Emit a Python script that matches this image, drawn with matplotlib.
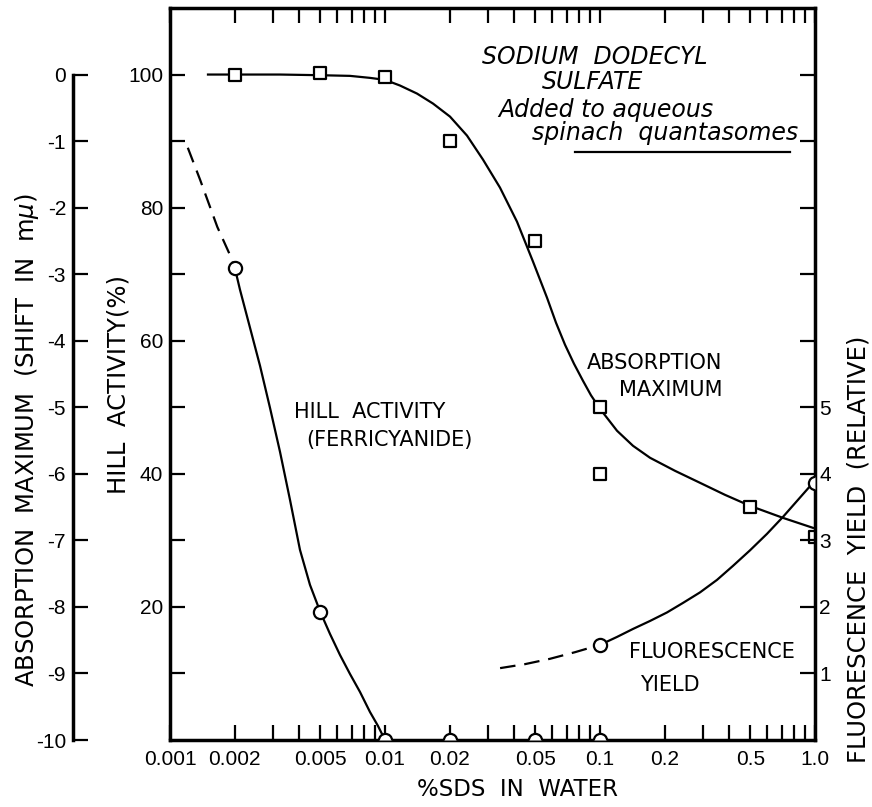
import matplotlib
matplotlib.use("Agg")
import matplotlib.pyplot as plt
from matplotlib.path import Path
from matplotlib.ticker import LogLocator, NullFormatter, FixedLocator

# ---------------- data ----------------
# Absorption maximum shift (m-mu) -- squares
sds_abs = [0.002, 0.005, 0.01, 0.02, 0.05, 0.1, 0.1, 0.5, 1.0]
abs_shift = [0.0, 0.02, -0.03, -1.0, -2.5, -5.0, -6.0, -6.5, -6.95]

# Hill activity (%) -- circles
sds_hill = [0.002, 0.005, 0.01, 0.02, 0.05, 0.1]
hill_activity = [71.0, 19.2, 0.0, 0.0, 0.0, 0.0]

# Fluorescence yield (relative) -- circles
sds_fluor = [0.1, 1.0]
fluor_yield = [1.43, 3.86]

# hand-drawn curves, points
abs_curve_x = [0.001502, 0.002, 0.003248, 0.005, 0.006874, 0.008514, 0.01,
               0.01174, 0.01409, 0.01672, 0.02006, 0.02406, 0.02856, 0.03426,
               0.04111, 0.04881, 0.05669, 0.06242, 0.06874, 0.07569, 0.08334,
               0.0908, 0.1, 0.12, 0.1424, 0.1709, 0.2233, 0.2918, 0.3814,
               0.4984, 0.7098, 0.9788]
abs_curve_y = [0.0, 0.0, 0.0, -0.01, -0.02, -0.05, -0.08,
               -0.165, -0.286, -0.436, -0.632, -0.917, -1.278, -1.699,
               -2.211, -2.812, -3.353, -3.729, -4.06, -4.346, -4.602,
               -4.82, -5.023, -5.353, -5.579, -5.759, -5.955, -6.135, -6.316,
               -6.481, -6.662, -6.812]

hill_dash_x = [0.00121, 0.00138, 0.00166, 0.0019, 0.002]
hill_dash_y = [89.0, 84.2, 77.1, 72.9, 71.0]
hill_curve_x = [0.002, 0.002116, 0.002356, 0.002622, 0.002918, 0.003248,
                0.003615, 0.004023, 0.004478, 0.005, 0.005548, 0.006175,
                0.006874, 0.007651, 0.008514, 0.009278, 0.01]
hill_curve_y = [71.0, 67.67, 61.95, 56.24, 49.92, 43.31, 36.09, 28.57, 23.31,
                19.25, 15.94, 12.78, 9.92, 7.22, 4.21, 2.11, 0.0]

fluor_dash_x = [0.0343, 0.0448, 0.0585, 0.0766, 0.1]
fluor_dash_y = [1.08, 1.14, 1.22, 1.32, 1.43]
fluor_curve_x = [0.1, 0.12, 0.1424, 0.1709, 0.205, 0.2432, 0.2918, 0.3501,
                 0.4155, 0.4984, 0.598, 0.7098, 0.8335, 0.9788]
fluor_curve_y = [1.429, 1.549, 1.669, 1.789, 1.917, 2.06, 2.218, 2.406,
                 2.617, 2.85, 3.098, 3.353, 3.609, 3.865]

# ticks
xtick_vals = [0.001, 0.002, 0.005, 0.01, 0.02, 0.05, 0.1, 0.2, 0.5, 1.0]
xtick_labels = ["0.001", "0.002", "0.005", "0.01", "0.02", "0.05", "0.1",
                "0.2", "0.5", "1.0"]
hill_major = [20, 40, 60, 80, 100]
hill_minor = [10, 30, 50, 70, 90]
abs_ticks = [0, -1, -2, -3, -4, -5, -6, -7, -8, -9, -10]
abs_labels = ["0", "-1", "-2", "-3", "-4", "-5", "-6", "-7", "-8", "-9", "-10"]
fluor_major = [1, 2, 3, 4, 5]
fluor_minor = [6, 7, 8, 9, 10]

# ---------------- figure ----------------
W, H = 872, 807
fig = plt.figure(figsize=(W / 100, H / 100), dpi=100)
fig.patch.set_facecolor("white")
ax = fig.add_axes([170 / W, 1 - 740 / H, 645 / W, 732 / H])
ax_abs = ax.twinx()
ax_fl = ax.twinx()

SPW = 2.5
TL = 11
TW = 1.6
tick_font = dict(family="Liberation Sans", size=15)
lab_font = dict(family="DejaVu Sans", size=17.5)
txt_font = dict(family="DejaVu Sans", size=15)

XMIN, XMAX = 0.001, 1.0
ax.set_xscale("log")
ax.set_xlim(XMIN, XMAX)
ax.set_ylim(0, 110)
ax_abs.set_ylim(-10, 1)
ax_fl.set_ylim(0, 11)

# main axes spines
for s in ["left", "bottom", "top"]:
    ax.spines[s].set_linewidth(SPW)
ax.spines["right"].set_visible(False)

ax.set_xticks(xtick_vals, xtick_labels)
ax.xaxis.set_minor_locator(LogLocator(base=10, subs=range(2, 10)))
ax.xaxis.set_minor_formatter(NullFormatter())
ax.tick_params(axis="x", which="both", direction="in", top=True, bottom=True,
               length=TL, width=TW, pad=7)
for lbl in ax.get_xticklabels():
    lbl.set_fontfamily(tick_font["family"])
    lbl.set_fontsize(tick_font["size"])

ax.set_yticks(hill_major, [str(v) for v in hill_major])
ax.yaxis.set_minor_locator(FixedLocator(hill_minor))
ax.tick_params(axis="y", which="both", direction="in", left=True, right=False,
               labelleft=True, labelright=False, length=TL, width=TW, pad=5)
for lbl in ax.get_yticklabels():
    lbl.set_fontfamily(tick_font["family"])
    lbl.set_fontsize(tick_font["size"])

# absorption axis (detached on left)
for s in ["top", "bottom", "right"]:
    ax_abs.spines[s].set_visible(False)
ax_abs.spines["left"].set_visible(True)
ax_abs.spines["left"].set_position(("axes", (73 - 170) / 645))
ax_abs.spines["left"].set_bounds(-10, 0)
ax_abs.spines["left"].set_linewidth(SPW)
ax_abs.yaxis.set_ticks_position("left")
ax_abs.set_yticks(abs_ticks, abs_labels)
ax_abs.tick_params(axis="y", direction="in", left=True, right=False,
                   labelleft=True, labelright=False, length=TL, width=TW, pad=5)
for lbl in ax_abs.get_yticklabels():
    lbl.set_fontfamily(tick_font["family"])
    lbl.set_fontsize(tick_font["size"])

# fluorescence axis (right)
for s in ["top", "bottom", "left"]:
    ax_fl.spines[s].set_visible(False)
ax_fl.spines["right"].set_linewidth(SPW)
ax_fl.set_yticks(fluor_major, [str(v) for v in fluor_major])
ax_fl.yaxis.set_minor_locator(FixedLocator(fluor_minor))
ax_fl.tick_params(axis="y", which="both", direction="in", right=True, left=False,
                  labelright=True, labelleft=False, length=TL, width=TW, pad=3)
for lbl in ax_fl.get_yticklabels():
    lbl.set_fontfamily(tick_font["family"])
    lbl.set_fontsize(tick_font["size"])

# ---------------- markers cut by the frame ----------------
UPPER_HALF_CIRCLE = Path.arc(0, 180)
LEFT_HALF_CIRCLE = Path.arc(90, 270)
LEFT_HALF_SQUARE = Path([(0, -1), (-1, -1), (-1, 1), (0, 1)])


def draw_points(axis, xs, ys, kind, ybottom):
    """Scatter points; those lying on the frame are drawn as the half that
    stays inside the plot area, like the original drawing."""
    full = "o" if kind == "circle" else "s"
    size = 9.5 ** 2 if kind == "circle" else 9 ** 2
    groups = {}
    for x, y in zip(xs, ys):
        if x >= XMAX:
            mk = LEFT_HALF_CIRCLE if kind == "circle" else LEFT_HALF_SQUARE
        elif y <= ybottom:
            mk = UPPER_HALF_CIRCLE
        else:
            mk = full
        groups.setdefault(id(mk) if not isinstance(mk, str) else mk,
                          (mk, [], []))
        groups_key = id(mk) if not isinstance(mk, str) else mk
        groups[groups_key][1].append(x)
        groups[groups_key][2].append(y)
    for mk, gx, gy in groups.values():
        axis.scatter(gx, gy, marker=mk, s=size, facecolors="white",
                     edgecolors="black", linewidths=1.6, zorder=5)


# ---------------- curves and points ----------------
LW = 1.6
DASH = (7, 4)
ax_abs.plot(abs_curve_x, abs_curve_y, color="black", lw=LW)
draw_points(ax_abs, sds_abs, abs_shift, "square", -10)

ax.plot(hill_dash_x, hill_dash_y, color="black", lw=LW, dashes=DASH)
ax.plot(hill_curve_x, hill_curve_y, color="black", lw=LW)
draw_points(ax, sds_hill, hill_activity, "circle", 0)

ax_fl.plot(fluor_dash_x, fluor_dash_y, color="black", lw=LW, dashes=DASH)
ax_fl.plot(fluor_curve_x, fluor_curve_y, color="black", lw=LW)
draw_points(ax_fl, sds_fluor, fluor_yield, "circle", 0)

# ---------------- texts ----------------
def fx(px):
    return (px - 170) / 645

def fy(py):
    return (740 - py) / 732

ax.text(fx(27), fy(440), "ABSORPTION  MAXIMUM  (SHIFT  IN  m$\\mu$)",
        rotation=90, ha="center", va="center", transform=ax.transAxes, **lab_font)
ax.text(fx(118), fy(385), "HILL  ACTIVITY(%)", rotation=90, ha="center",
        va="center", transform=ax.transAxes, **lab_font)
ax.text(fx(858), fy(549), "FLUORESCENCE  YIELD  (RELATIVE)", rotation=90,
        ha="center", va="center", transform=ax.transAxes, **lab_font)
ax.text(fx(517), fy(790), "%SDS  IN  WATER", ha="center", va="center",
        transform=ax.transAxes, family="DejaVu Sans", size=16.5)

ax.text(fx(370), fy(412), "HILL  ACTIVITY", ha="center", va="center",
        transform=ax.transAxes, **txt_font)
ax.text(fx(389), fy(440), "(FERRICYANIDE)", ha="center", va="center",
        transform=ax.transAxes, **txt_font)
ax.text(fx(655), fy(363), "ABSORPTION", ha="center", va="center",
        transform=ax.transAxes, **txt_font)
ax.text(fx(671), fy(390), "MAXIMUM", ha="center", va="center",
        transform=ax.transAxes, **txt_font)
ax.text(fx(712), fy(652), "FLUORESCENCE", ha="center", va="center",
        transform=ax.transAxes, **txt_font)
ax.text(fx(670), fy(685), "YIELD", ha="center", va="center",
        transform=ax.transAxes, **txt_font)

ital = dict(family="DejaVu Sans", size=17, style="italic", ha="center",
            va="center", transform=ax.transAxes)
ax.text(fx(595), fy(57), "SODIUM  DODECYL", **ital)
ax.text(fx(592), fy(82), "SULFATE", **ital)
ax.text(fx(606), fy(110), "Added to aqueous", **ital)
ax.text(fx(665), fy(133), "spinach  quantasomes", **ital)
ax.plot([fx(575), fx(790)], [fy(152), fy(152)], color="black", lw=1.6,
        transform=ax.transAxes)

fig.savefig("out.png", dpi=100, facecolor="white")
